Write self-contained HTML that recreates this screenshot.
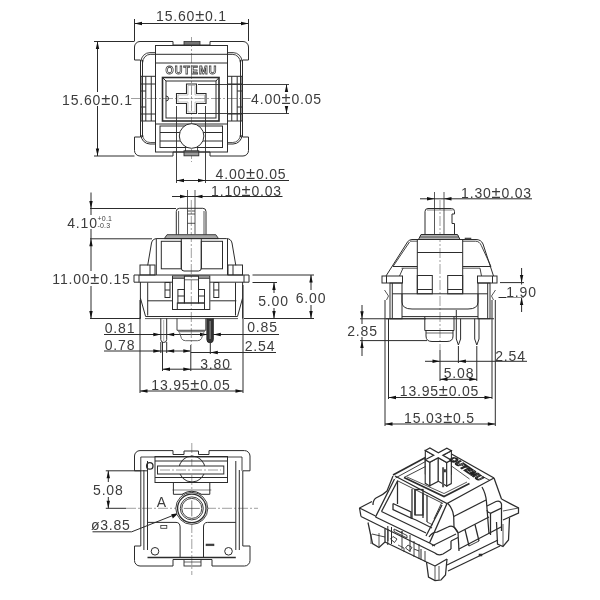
<!DOCTYPE html>
<html><head><meta charset="utf-8"><style>
html,body{margin:0;padding:0;background:#fff;width:600px;height:600px;overflow:hidden}
svg{display:block;will-change:transform}
text{font-family:"Liberation Sans",sans-serif}
</style></head><body>
<svg width="600" height="600" viewBox="0 0 600 600">
<rect width="600" height="600" fill="#fff"/>
<line x1="134.5" y1="19" x2="134.5" y2="41" stroke="#2c2c2c" stroke-width="1"/>
<line x1="248.5" y1="19" x2="248.5" y2="41" stroke="#2c2c2c" stroke-width="1"/>
<line x1="134.5" y1="23.5" x2="248.5" y2="23.5" stroke="#2c2c2c" stroke-width="1"/>
<polygon points="134.50,23.50 142.00,21.80 142.00,25.20" fill="#111"/>
<polygon points="248.50,23.50 241.00,21.80 241.00,25.20" fill="#111"/>
<text x="191.5" y="20.8" text-anchor="middle" font-size="14" letter-spacing="0.8" fill="#3c3c3c">15.60<tspan font-size="16.5">±</tspan>0.1</text>
<line x1="94" y1="41.5" x2="134.5" y2="41.5" stroke="#2c2c2c" stroke-width="1"/>
<line x1="94" y1="156" x2="134.5" y2="156" stroke="#2c2c2c" stroke-width="1"/>
<line x1="97.5" y1="41.5" x2="97.5" y2="156" stroke="#2c2c2c" stroke-width="1"/>
<polygon points="97.50,41.50 95.80,49.00 99.20,49.00" fill="#111"/>
<polygon points="97.50,156.00 95.80,148.50 99.20,148.50" fill="#111"/>
<rect x="62" y="92" width="72" height="14" fill="#fff"/>
<text x="97.5" y="104.5" text-anchor="middle" font-size="14" letter-spacing="0.8" fill="#3c3c3c">15.60<tspan font-size="16.5">±</tspan>0.1</text>
<line x1="131" y1="98.5" x2="250" y2="98.5" stroke="#777" stroke-width="0.7" stroke-dasharray="10 2 2 2"/>
<line x1="191.5" y1="37" x2="191.5" y2="162" stroke="#777" stroke-width="0.7" stroke-dasharray="10 2 2 2"/>
<line x1="198" y1="84.5" x2="289" y2="84.5" stroke="#2c2c2c" stroke-width="0.9"/>
<line x1="198" y1="113.5" x2="289" y2="113.5" stroke="#2c2c2c" stroke-width="0.9"/>
<line x1="286.5" y1="84.5" x2="286.5" y2="113.5" stroke="#2c2c2c" stroke-width="1"/>
<polygon points="286.50,84.50 284.80,92.00 288.20,92.00" fill="#111"/>
<polygon points="286.50,113.50 284.80,106.00 288.20,106.00" fill="#111"/>
<rect x="250" y="92" width="73" height="14" fill="#fff"/>
<line x1="242" y1="98.5" x2="251" y2="98.5" stroke="#777" stroke-width="0.7" stroke-dasharray="10 2 2 2"/>
<text x="286.5" y="104.3" text-anchor="middle" font-size="14" letter-spacing="0.8" fill="#3c3c3c">4.00<tspan font-size="16.5">±</tspan>0.05</text>
<line x1="176.5" y1="106" x2="176.5" y2="183" stroke="#2c2c2c" stroke-width="0.9"/>
<line x1="205.5" y1="106" x2="205.5" y2="183" stroke="#2c2c2c" stroke-width="0.9"/>
<line x1="176.5" y1="180.5" x2="289" y2="180.5" stroke="#2c2c2c" stroke-width="1"/>
<polygon points="176.50,180.50 184.00,178.80 184.00,182.20" fill="#111"/>
<polygon points="205.50,180.50 198.00,178.80 198.00,182.20" fill="#111"/>
<text x="251" y="178.5" text-anchor="middle" font-size="14" letter-spacing="0.8" fill="#3c3c3c">4.00<tspan font-size="16.5">±</tspan>0.05</text>
<path d="M134.5,60 V47 A5.5,5.5 0 0 1 140,41.5 H173 V45 H210 V41.5 H243 A5.5,5.5 0 0 1 248.5,47 V60 H242.5 V137 H248.5 V150.5 A5.5,5.5 0 0 1 243,156 H210 V152 H173 V156 H140 A5.5,5.5 0 0 1 134.5,150.5 V137 H140.5 V60 Z" fill="none" stroke="#2c2c2c" stroke-width="1"/>
<line x1="142.5" y1="60" x2="142.5" y2="137" stroke="#2c2c2c" stroke-width="1"/>
<line x1="240.5" y1="60" x2="240.5" y2="137" stroke="#2c2c2c" stroke-width="1"/>
<path d="M141,61.5 A9,9 0 0 1 150,52.6 H155.5" fill="none" stroke="#2c2c2c" stroke-width="0.9"/>
<path d="M142.7,62.5 A8,8 0 0 1 150.7,54.3" fill="none" stroke="#2c2c2c" stroke-width="0.9"/>
<path d="M242,61.5 A9,9 0 0 0 233,52.6 H227.5" fill="none" stroke="#2c2c2c" stroke-width="0.9"/>
<path d="M240.3,62.5 A8,8 0 0 0 232.3,54.3" fill="none" stroke="#2c2c2c" stroke-width="0.9"/>
<path d="M141,135 A9,9 0 0 0 150,144 H155" fill="none" stroke="#2c2c2c" stroke-width="1"/>
<path d="M242,135 A9,9 0 0 1 233,144 H227.5" fill="none" stroke="#2c2c2c" stroke-width="1"/>
<path d="M142.7,135 A7.5,7.5 0 0 0 150.2,142.5 H155.5" fill="none" stroke="#2c2c2c" stroke-width="0.8"/>
<path d="M240.3,135 A7.5,7.5 0 0 1 232.8,142.5 H227.5" fill="none" stroke="#2c2c2c" stroke-width="0.8"/>
<rect x="184" y="41.5" width="16" height="3.5" fill="#777" stroke="#2c2c2c" stroke-width="0.8"/>
<rect x="184" y="150.8" width="14.8" height="5" fill="#999" stroke="#2c2c2c" stroke-width="0.9"/>
<rect x="155.5" y="45.5" width="72" height="106.5" fill="none" stroke="#2c2c2c" stroke-width="1"/>
<line x1="150.5" y1="54.3" x2="232.5" y2="54.3" stroke="#2c2c2c" stroke-width="1"/>
<line x1="155.5" y1="63" x2="227.5" y2="63" stroke="#2c2c2c" stroke-width="1"/>
<text x="191.5" y="73.5" text-anchor="middle" font-size="10.5" letter-spacing="1.1" fill="#fff" font-weight="bold" stroke="#444" stroke-width="0.8">OUTEMU</text>
<rect x="227.5" y="76.3" width="14.5" height="44.7" fill="none" stroke="#2c2c2c" stroke-width="1"/>
<line x1="237.2" y1="76.3" x2="237.2" y2="121" stroke="#2c2c2c" stroke-width="1"/>
<line x1="231.75" y1="76.3" x2="231.75" y2="121" stroke="#2c2c2c" stroke-width="1"/>
<line x1="237.2" y1="84" x2="242" y2="84" stroke="#2c2c2c" stroke-width="1"/>
<line x1="237.2" y1="91" x2="242" y2="91" stroke="#2c2c2c" stroke-width="1"/>
<line x1="237.2" y1="107" x2="242" y2="107" stroke="#2c2c2c" stroke-width="1"/>
<line x1="237.2" y1="114" x2="242" y2="114" stroke="#2c2c2c" stroke-width="1"/>
<line x1="227.5" y1="84" x2="237.2" y2="84" stroke="#2c2c2c" stroke-width="1"/>
<line x1="227.5" y1="114" x2="237.2" y2="114" stroke="#2c2c2c" stroke-width="1"/>
<rect x="141" y="76.3" width="14.5" height="44.7" fill="none" stroke="#2c2c2c" stroke-width="1"/>
<line x1="145.8" y1="76.3" x2="145.8" y2="121" stroke="#2c2c2c" stroke-width="1"/>
<line x1="151.25" y1="76.3" x2="151.25" y2="121" stroke="#2c2c2c" stroke-width="1"/>
<line x1="141" y1="84" x2="145.8" y2="84" stroke="#2c2c2c" stroke-width="1"/>
<line x1="141" y1="91" x2="145.8" y2="91" stroke="#2c2c2c" stroke-width="1"/>
<line x1="141" y1="107" x2="145.8" y2="107" stroke="#2c2c2c" stroke-width="1"/>
<line x1="141" y1="114" x2="145.8" y2="114" stroke="#2c2c2c" stroke-width="1"/>
<line x1="145.8" y1="84" x2="155.5" y2="84" stroke="#2c2c2c" stroke-width="1"/>
<line x1="145.8" y1="114" x2="155.5" y2="114" stroke="#2c2c2c" stroke-width="1"/>
<rect x="162.5" y="77.5" width="56.5" height="43.5" fill="none" stroke="#2c2c2c" stroke-width="1.6"/>
<rect x="166" y="81" width="50" height="37" fill="none" stroke="#2c2c2c" stroke-width="1"/>
<path d="M166,96 A2.5,2.5 0 0 1 166,101" fill="none" stroke="#2c2c2c" stroke-width="1"/>
<line x1="162.5" y1="77.5" x2="166" y2="81" stroke="#2c2c2c" stroke-width="1"/>
<line x1="219" y1="77.5" x2="216" y2="81" stroke="#2c2c2c" stroke-width="1"/>
<path d="M186.5,84 H196.5 V93.5 H206 V103.5 H196.5 V113.5 H186.5 V103.5 H176.5 V93.5 H186.5 Z" fill="none" stroke="#2c2c2c" stroke-width="1.1"/>
<path d="M188,85.5 H195 V95 H204.5 V102 H195 V112 H188 V102 H178 V95 H188 Z" fill="none" stroke="#888" stroke-width="0.5"/>
<line x1="191.5" y1="87" x2="191.5" y2="110" stroke="#888" stroke-width="0.5" stroke-dasharray="3 1.5"/>
<line x1="180" y1="98.5" x2="203" y2="98.5" stroke="#888" stroke-width="0.5" stroke-dasharray="3 1.5"/>
<line x1="155.5" y1="124" x2="227.5" y2="124" stroke="#2c2c2c" stroke-width="1"/>
<rect x="160" y="126" width="62.5" height="21.5" fill="none" stroke="#2c2c2c" stroke-width="1"/>
<line x1="160" y1="132.5" x2="222.5" y2="132.5" stroke="#2c2c2c" stroke-width="1"/>
<line x1="160" y1="141" x2="222.5" y2="141" stroke="#2c2c2c" stroke-width="1"/>
<circle cx="191.6" cy="136" r="12.3" fill="#fff" stroke="#2c2c2c" stroke-width="1"/>
<path d="M185.5,147 L185.5,151 M197.5,147 L197.5,151" fill="none" stroke="#2c2c2c" stroke-width="0.8"/>
<line x1="187.5" y1="190" x2="187.5" y2="234" stroke="#2c2c2c" stroke-width="0.8"/>
<line x1="195" y1="190" x2="195" y2="234" stroke="#2c2c2c" stroke-width="0.8"/>
<line x1="172" y1="196.5" x2="282.5" y2="196.5" stroke="#2c2c2c" stroke-width="1"/>
<polygon points="187.50,196.50 180.00,194.80 180.00,198.20" fill="#111"/>
<polygon points="195.00,196.50 202.50,194.80 202.50,198.20" fill="#111"/>
<text x="246.5" y="195.8" text-anchor="middle" font-size="14" letter-spacing="0.8" fill="#3c3c3c">1.10<tspan font-size="16.5">±</tspan>0.03</text>
<line x1="90" y1="208.5" x2="176" y2="208.5" stroke="#2c2c2c" stroke-width="1"/>
<line x1="90" y1="238.8" x2="152" y2="238.8" stroke="#2c2c2c" stroke-width="1"/>
<line x1="90" y1="318.5" x2="140" y2="318.5" stroke="#2c2c2c" stroke-width="1"/>
<line x1="91" y1="192.5" x2="91" y2="318.5" stroke="#2c2c2c" stroke-width="1"/>
<polygon points="91.00,208.50 89.30,201.00 92.70,201.00" fill="#111"/>
<polygon points="91.00,238.80 89.30,246.30 92.70,246.30" fill="#111"/>
<polygon points="91.00,318.50 89.30,311.00 92.70,311.00" fill="#111"/>
<rect x="67" y="215" width="48" height="14" fill="#fff"/>
<text x="82.5" y="227.5" text-anchor="middle" font-size="14" letter-spacing="0.8" fill="#3c3c3c">4.10</text>
<text x="97.5" y="220.5" text-anchor="start" font-size="7" letter-spacing="0.2" fill="#3c3c3c">+0.1</text>
<text x="97.5" y="227.8" text-anchor="start" font-size="7" letter-spacing="0.2" fill="#3c3c3c">-0.3</text>
<rect x="51" y="271" width="82" height="15" fill="#fff"/>
<text x="91.5" y="284.2" text-anchor="middle" font-size="14" letter-spacing="0.8" fill="#3c3c3c">11.00<tspan font-size="16.5">±</tspan>0.15</text>
<line x1="252.5" y1="275" x2="314" y2="275" stroke="#2c2c2c" stroke-width="1"/>
<line x1="244" y1="318.5" x2="314" y2="318.5" stroke="#2c2c2c" stroke-width="1"/>
<line x1="252.5" y1="282.5" x2="277" y2="282.5" stroke="#2c2c2c" stroke-width="1"/>
<line x1="311" y1="275" x2="311" y2="318.5" stroke="#2c2c2c" stroke-width="1"/>
<polygon points="311.00,275.00 309.30,282.50 312.70,282.50" fill="#111"/>
<polygon points="311.00,318.50 309.30,311.00 312.70,311.00" fill="#111"/>
<line x1="274" y1="282.5" x2="274" y2="318.5" stroke="#2c2c2c" stroke-width="1"/>
<polygon points="274.00,282.50 272.30,290.00 275.70,290.00" fill="#111"/>
<polygon points="274.00,318.50 272.30,311.00 275.70,311.00" fill="#111"/>
<rect x="258" y="293" width="31" height="15" fill="#fff"/>
<rect x="295" y="290" width="33" height="15" fill="#fff"/>
<text x="273.5" y="306.2" text-anchor="middle" font-size="14" letter-spacing="0.8" fill="#3c3c3c">5.00</text>
<text x="311" y="302.7" text-anchor="middle" font-size="14" letter-spacing="0.8" fill="#3c3c3c">6.00</text>
<line x1="104" y1="334.5" x2="198" y2="334.5" stroke="#2c2c2c" stroke-width="1"/>
<polygon points="160.80,334.50 153.30,332.80 153.30,336.20" fill="#111"/>
<polygon points="166.70,334.50 174.20,332.80 174.20,336.20" fill="#111"/>
<text x="120" y="333" text-anchor="middle" font-size="14" letter-spacing="0.8" fill="#3c3c3c">0.81</text>
<line x1="104" y1="351" x2="190" y2="351" stroke="#2c2c2c" stroke-width="1"/>
<polygon points="160.80,351.00 153.30,349.30 153.30,352.70" fill="#111"/>
<polygon points="166.70,351.00 174.20,349.30 174.20,352.70" fill="#111"/>
<polygon points="190.80,351.00 183.30,349.30 183.30,352.70" fill="#111"/>
<text x="120" y="349.5" text-anchor="middle" font-size="14" letter-spacing="0.8" fill="#3c3c3c">0.78</text>
<line x1="198" y1="334.5" x2="279" y2="334.5" stroke="#2c2c2c" stroke-width="1"/>
<polygon points="207.50,334.50 200.00,332.80 200.00,336.20" fill="#111"/>
<polygon points="213.30,334.50 220.80,332.80 220.80,336.20" fill="#111"/>
<text x="262.5" y="332.3" text-anchor="middle" font-size="14" letter-spacing="0.8" fill="#3c3c3c">0.85</text>
<line x1="190.8" y1="352.5" x2="276" y2="352.5" stroke="#2c2c2c" stroke-width="1"/>
<polygon points="210.30,352.50 217.80,350.80 217.80,354.20" fill="#111"/>
<text x="260" y="351.2" text-anchor="middle" font-size="14" letter-spacing="0.8" fill="#3c3c3c">2.54</text>
<line x1="162.5" y1="369.2" x2="231.7" y2="369.2" stroke="#2c2c2c" stroke-width="1"/>
<polygon points="162.50,369.20 170.00,367.50 170.00,370.90" fill="#111"/>
<polygon points="190.80,369.20 183.30,367.50 183.30,370.90" fill="#111"/>
<text x="215.5" y="368.5" text-anchor="middle" font-size="14" letter-spacing="0.8" fill="#3c3c3c">3.80</text>
<line x1="140" y1="391" x2="243" y2="391" stroke="#2c2c2c" stroke-width="1"/>
<polygon points="140.00,391.00 147.50,389.30 147.50,392.70" fill="#111"/>
<polygon points="243.00,391.00 235.50,389.30 235.50,392.70" fill="#111"/>
<text x="191" y="390" text-anchor="middle" font-size="14" letter-spacing="0.8" fill="#3c3c3c">13.95<tspan font-size="16.5">±</tspan>0.05</text>
<line x1="140" y1="300" x2="140" y2="393" stroke="#2c2c2c" stroke-width="1"/>
<line x1="243" y1="285" x2="243" y2="393" stroke="#2c2c2c" stroke-width="1"/>
<line x1="160.8" y1="342" x2="160.8" y2="353" stroke="#2c2c2c" stroke-width="1"/>
<line x1="166.7" y1="342" x2="166.7" y2="353" stroke="#2c2c2c" stroke-width="1"/>
<line x1="162.5" y1="342" x2="162.5" y2="371" stroke="#2c2c2c" stroke-width="1"/>
<line x1="190.8" y1="345" x2="190.8" y2="371" stroke="#2c2c2c" stroke-width="1"/>
<line x1="210.3" y1="342" x2="210.3" y2="354" stroke="#2c2c2c" stroke-width="1"/>
<line x1="191.3" y1="200" x2="191.3" y2="345" stroke="#777" stroke-width="0.7" stroke-dasharray="10 2 2 2"/>
<path d="M176.3,234.7 V211.5 Q176.3,208.3 179.5,208.3 H202.8 Q206,208.3 206,211.5 V234.7" fill="none" stroke="#2c2c2c" stroke-width="1"/>
<line x1="178.6" y1="211" x2="178.6" y2="234.7" stroke="#2c2c2c" stroke-width="0.8"/>
<line x1="204" y1="211" x2="204" y2="234.7" stroke="#2c2c2c" stroke-width="0.8"/>
<path d="M187.5,211 H195 M187.5,214 H195 M187.5,223.3 H195" fill="none" stroke="#2c2c2c" stroke-width="0.8"/>
<polygon points="167,234.7 215.8,234.7 218.5,238.6 164.3,238.6" fill="#a5a5a5" stroke="#2c2c2c" stroke-width="0.9"/>
<path d="M147.7,265.4 L151.5,243 Q152.5,238.6 157,238.6 H226.5 Q231,238.6 232,243 L235.8,265.4" fill="none" stroke="#2c2c2c" stroke-width="1"/>
<line x1="156.3" y1="238.8" x2="156.3" y2="275" stroke="#2c2c2c" stroke-width="1"/>
<line x1="227.5" y1="238.8" x2="227.5" y2="275" stroke="#2c2c2c" stroke-width="1"/>
<rect x="161.3" y="241.3" width="20" height="27.5" fill="none" stroke="#2c2c2c" stroke-width="1"/>
<rect x="201.3" y="241.3" width="21.2" height="27.5" fill="none" stroke="#2c2c2c" stroke-width="1"/>
<path d="M181.3,238.8 V268 Q181.3,271 184,271 H198.5 Q201.3,271 201.3,268 V238.8" fill="none" stroke="#2c2c2c" stroke-width="1"/>
<rect x="140" y="265" width="15" height="10" fill="none" stroke="#2c2c2c" stroke-width="1"/>
<line x1="150" y1="265" x2="150" y2="275" stroke="#2c2c2c" stroke-width="1"/>
<rect x="228" y="265" width="14.5" height="10" fill="none" stroke="#2c2c2c" stroke-width="1"/>
<line x1="233" y1="265" x2="233" y2="275" stroke="#2c2c2c" stroke-width="1"/>
<path d="M172.5,282.2 H134 V275 H249 V282.2 H209.8" fill="none" stroke="#2c2c2c" stroke-width="1"/>
<line x1="139" y1="275" x2="139" y2="282.2" stroke="#2c2c2c" stroke-width="1"/>
<line x1="244" y1="275" x2="244" y2="282.2" stroke="#2c2c2c" stroke-width="1"/>
<path d="M140.4,282 V298 L145.6,316.5 H237.5 L242.6,298 V282" fill="none" stroke="#2c2c2c" stroke-width="1"/>
<line x1="147.7" y1="282.5" x2="147.7" y2="315.5" stroke="#2c2c2c" stroke-width="1"/>
<line x1="235.5" y1="282.5" x2="235.5" y2="315.5" stroke="#2c2c2c" stroke-width="1"/>
<line x1="140.4" y1="298" x2="140.4" y2="318.6" stroke="#2c2c2c" stroke-width="1"/>
<line x1="242.6" y1="298" x2="242.6" y2="318.6" stroke="#2c2c2c" stroke-width="1"/>
<line x1="147.7" y1="300.8" x2="172.7" y2="300.8" stroke="#2c2c2c" stroke-width="1"/>
<line x1="210.2" y1="300.8" x2="236.3" y2="300.8" stroke="#2c2c2c" stroke-width="1"/>
<rect x="172.5" y="276" width="37.3" height="33.5" fill="none" stroke="#2c2c2c" stroke-width="1"/>
<line x1="172.5" y1="278.1" x2="184.4" y2="278.1" stroke="#2c2c2c" stroke-width="1.3"/>
<line x1="198.5" y1="278.1" x2="209.8" y2="278.1" stroke="#2c2c2c" stroke-width="1.3"/>
<rect x="184.4" y="276" width="14.1" height="27" fill="none" stroke="#2c2c2c" stroke-width="1"/>
<line x1="184.4" y1="279.8" x2="198.5" y2="279.8" stroke="#2c2c2c" stroke-width="0.7"/>
<rect x="177.9" y="289.5" width="6.5" height="13.5" fill="none" stroke="#2c2c2c" stroke-width="1"/>
<line x1="177.9" y1="296" x2="184.4" y2="296" stroke="#2c2c2c" stroke-width="1"/>
<rect x="198.5" y="289.5" width="6" height="13.5" fill="none" stroke="#2c2c2c" stroke-width="1"/>
<line x1="198.5" y1="296" x2="204.5" y2="296" stroke="#2c2c2c" stroke-width="1"/>
<rect x="177.3" y="303" width="27.2" height="6.5" fill="none" stroke="#2c2c2c" stroke-width="1"/>
<rect x="165" y="282.5" width="5" height="15" fill="none" stroke="#2c2c2c" stroke-width="1"/>
<line x1="165" y1="290" x2="170" y2="290" stroke="#2c2c2c" stroke-width="1"/>
<rect x="213.8" y="282.5" width="5" height="15" fill="none" stroke="#2c2c2c" stroke-width="1"/>
<line x1="213.8" y1="290" x2="218.8" y2="290" stroke="#2c2c2c" stroke-width="1"/>
<line x1="140" y1="317.5" x2="140" y2="319" stroke="#2c2c2c" stroke-width="1"/>
<line x1="145" y1="318.6" x2="238" y2="318.6" stroke="#2c2c2c" stroke-width="0.8"/>
<path d="M160.8,318.3 V339.5 A2.95,2.95 0 0 0 166.7,339.5 V318.3" fill="none" stroke="#2c2c2c" stroke-width="1"/>
<line x1="163.7" y1="320" x2="163.7" y2="341" stroke="#666" stroke-width="0.5"/>
<path d="M206.9,318.3 V339.6 A3.2,3.2 0 0 0 213.3,339.6 V318.3" fill="#333" stroke="#2c2c2c" stroke-width="1"/>
<line x1="210.1" y1="321" x2="210.1" y2="339" stroke="#888" stroke-width="1.2"/>
<path d="M177,318.3 V330.3 H205.8 V318.3" fill="none" stroke="#2c2c2c" stroke-width="0.9"/>
<path d="M178,331.7 H205 M179.5,332.5 L181.5,338.5 Q182.5,340.7 185.5,340.7 H197.5 Q200.5,340.7 201.5,338.5 L203.5,332.5" fill="none" stroke="#555" stroke-width="0.9"/>
<line x1="434.5" y1="192" x2="434.5" y2="235" stroke="#2c2c2c" stroke-width="0.8"/>
<line x1="444" y1="192" x2="444" y2="235" stroke="#2c2c2c" stroke-width="0.8"/>
<line x1="420" y1="198.8" x2="532" y2="198.8" stroke="#2c2c2c" stroke-width="1"/>
<polygon points="434.50,198.80 427.00,197.10 427.00,200.50" fill="#111"/>
<polygon points="444.00,198.80 451.50,197.10 451.50,200.50" fill="#111"/>
<text x="496.5" y="197.8" text-anchor="middle" font-size="14" letter-spacing="0.8" fill="#3c3c3c">1.30<tspan font-size="16.5">±</tspan>0.03</text>
<line x1="440" y1="200" x2="440" y2="350" stroke="#777" stroke-width="0.7" stroke-dasharray="10 2 2 2"/>
<path d="M425,234.5 V211.5 Q425,208.5 428,208.5 H451.5 Q454.5,208.5 454.5,211.5 V214 H452 V223.5 H454.5 V234.5" fill="none" stroke="#2c2c2c" stroke-width="1"/>
<line x1="427" y1="210" x2="452.5" y2="210" stroke="#2c2c2c" stroke-width="0.6"/>
<polygon points="421,234.5 457.5,234.5 460,239.5 418.5,239.5" fill="#d5d5d5" stroke="#2c2c2c" stroke-width="1"/>
<line x1="420" y1="236.2" x2="458.5" y2="236.2" stroke="#2c2c2c" stroke-width="0.7"/>
<line x1="419.5" y1="237.8" x2="459" y2="237.8" stroke="#2c2c2c" stroke-width="0.7"/>
<rect x="465" y="238" width="6" height="1.5" fill="#555" stroke="#2c2c2c" stroke-width="0.5"/>
<path d="M386,276 L407.5,242 Q409,239.5 412,239.5 H476 Q481,239.5 483,244 L493.5,276" fill="none" stroke="#2c2c2c" stroke-width="1"/>
<line x1="393" y1="266.5" x2="409.5" y2="242" stroke="#2c2c2c" stroke-width="0.9"/>
<line x1="410" y1="241.2" x2="417.3" y2="241.2" stroke="#2c2c2c" stroke-width="0.8"/>
<path d="M462.7,241.2 H475.5 Q479.5,241.2 481.3,245.5 L491,266.5" fill="none" stroke="#2c2c2c" stroke-width="0.9"/>
<line x1="393" y1="266.5" x2="417.3" y2="266.5" stroke="#2c2c2c" stroke-width="1"/>
<line x1="401.5" y1="268.2" x2="417.3" y2="268.2" stroke="#2c2c2c" stroke-width="0.8"/>
<line x1="403" y1="268.2" x2="399.5" y2="276" stroke="#2c2c2c" stroke-width="0.9"/>
<line x1="462.7" y1="266.5" x2="491" y2="266.5" stroke="#2c2c2c" stroke-width="1"/>
<line x1="462.7" y1="268.2" x2="480" y2="268.2" stroke="#2c2c2c" stroke-width="0.8"/>
<line x1="480" y1="268.2" x2="481.5" y2="276" stroke="#2c2c2c" stroke-width="0.9"/>
<line x1="417.3" y1="239.5" x2="417.3" y2="294" stroke="#2c2c2c" stroke-width="1"/>
<line x1="462.7" y1="239.5" x2="462.7" y2="294" stroke="#2c2c2c" stroke-width="1"/>
<line x1="417.3" y1="252.5" x2="462.7" y2="252.5" stroke="#2c2c2c" stroke-width="1"/>
<rect x="417.3" y="275.5" width="15" height="18.3" fill="none" stroke="#2c2c2c" stroke-width="1"/>
<rect x="447.7" y="275.5" width="15" height="18.3" fill="none" stroke="#2c2c2c" stroke-width="1"/>
<line x1="417.3" y1="289.5" x2="432.3" y2="289.5" stroke="#2c2c2c" stroke-width="1"/>
<line x1="447.7" y1="289.5" x2="462.7" y2="289.5" stroke="#2c2c2c" stroke-width="1"/>
<rect x="382" y="276" width="20.5" height="7" fill="none" stroke="#2c2c2c" stroke-width="1"/>
<rect x="477.5" y="276" width="19.5" height="7" fill="none" stroke="#2c2c2c" stroke-width="1"/>
<line x1="386.5" y1="276" x2="386.5" y2="283" stroke="#2c2c2c" stroke-width="1"/>
<line x1="492.5" y1="276" x2="492.5" y2="283" stroke="#2c2c2c" stroke-width="1"/>
<rect x="390" y="283" width="12" height="35.75" fill="none" stroke="#2c2c2c" stroke-width="1"/>
<line x1="392.3" y1="283" x2="392.3" y2="318.75" stroke="#2c2c2c" stroke-width="1"/>
<rect x="478" y="283" width="12" height="35.75" fill="none" stroke="#2c2c2c" stroke-width="1"/>
<line x1="487.7" y1="283" x2="487.7" y2="318.75" stroke="#2c2c2c" stroke-width="1"/>
<line x1="392.3" y1="293.8" x2="487.7" y2="293.8" stroke="#2c2c2c" stroke-width="1"/>
<path d="M402,293.8 V302 Q402,309 412,309 H468 Q478,309 478,302 V293.8" fill="none" stroke="#2c2c2c" stroke-width="1"/>
<line x1="402" y1="316.6" x2="478" y2="316.6" stroke="#2c2c2c" stroke-width="1"/>
<line x1="386" y1="318.75" x2="494" y2="318.75" stroke="#2c2c2c" stroke-width="1"/>
<polyline points="384.5,290 388.5,296 386.5,300" fill="none" stroke="#2c2c2c" stroke-width="0.8"/>
<polyline points="495.5,290 491.5,296 493.5,300" fill="none" stroke="#2c2c2c" stroke-width="0.8"/>
<path d="M424.8,316.6 V330.5 H454 V316.6" fill="none" stroke="#2c2c2c" stroke-width="1"/>
<path d="M426,330.5 V336 Q426,341.5 432,341.5 H447 Q453,341.5 453,336 V330.5" fill="none" stroke="#2c2c2c" stroke-width="1"/>
<line x1="426" y1="333" x2="453" y2="333" stroke="#2c2c2c" stroke-width="0.7"/>
<path d="M456.3,310 V339 L458.4,345 L460.6,339 V318.75" fill="none" stroke="#2c2c2c" stroke-width="1"/>
<path d="M474.7,318.75 V339 L476.8,345 L479,339 V318.75" fill="none" stroke="#2c2c2c" stroke-width="1"/>
<line x1="385" y1="300" x2="385" y2="426" stroke="#2c2c2c" stroke-width="1"/>
<line x1="388.5" y1="319" x2="388.5" y2="399" stroke="#2c2c2c" stroke-width="1"/>
<line x1="492" y1="300" x2="492" y2="399" stroke="#2c2c2c" stroke-width="1"/>
<line x1="495.3" y1="300" x2="495.3" y2="426" stroke="#2c2c2c" stroke-width="1"/>
<line x1="360" y1="318.75" x2="426" y2="318.75" stroke="#2c2c2c" stroke-width="1"/>
<line x1="360" y1="340.6" x2="427" y2="340.6" stroke="#2c2c2c" stroke-width="1"/>
<line x1="362" y1="305" x2="362" y2="356" stroke="#2c2c2c" stroke-width="1"/>
<polygon points="362.00,318.75 360.30,311.25 363.70,311.25" fill="#111"/>
<polygon points="362.00,340.60 360.30,348.10 363.70,348.10" fill="#111"/>
<rect x="346" y="324" width="33" height="13" fill="#fff"/>
<text x="362.5" y="336.3" text-anchor="middle" font-size="14" letter-spacing="0.8" fill="#3c3c3c">2.85</text>
<line x1="500" y1="282.6" x2="524" y2="282.6" stroke="#2c2c2c" stroke-width="1"/>
<line x1="498.5" y1="297.5" x2="524" y2="297.5" stroke="#2c2c2c" stroke-width="1"/>
<line x1="521.6" y1="268" x2="521.6" y2="312" stroke="#2c2c2c" stroke-width="1"/>
<polygon points="521.60,282.60 519.90,275.10 523.30,275.10" fill="#111"/>
<polygon points="521.60,297.50 519.90,305.00 523.30,305.00" fill="#111"/>
<rect x="506" y="284.5" width="31" height="13" fill="#fff"/>
<text x="521.5" y="296.5" text-anchor="middle" font-size="14" letter-spacing="0.8" fill="#3c3c3c">1.90</text>
<line x1="458.4" y1="346" x2="458.4" y2="363" stroke="#2c2c2c" stroke-width="1"/>
<line x1="476.8" y1="346" x2="476.8" y2="381" stroke="#2c2c2c" stroke-width="1"/>
<line x1="440" y1="350" x2="440" y2="381" stroke="#2c2c2c" stroke-width="1"/>
<line x1="425" y1="361.3" x2="527" y2="361.3" stroke="#2c2c2c" stroke-width="1"/>
<polygon points="440.00,361.30 432.50,359.60 432.50,363.00" fill="#111"/>
<polygon points="458.40,361.30 465.90,359.60 465.90,363.00" fill="#111"/>
<text x="510.5" y="360.5" text-anchor="middle" font-size="14" letter-spacing="0.8" fill="#3c3c3c">2.54</text>
<line x1="440" y1="379.3" x2="477" y2="379.3" stroke="#2c2c2c" stroke-width="1"/>
<polygon points="440.00,379.30 447.50,377.60 447.50,381.00" fill="#111"/>
<polygon points="476.80,379.30 469.30,377.60 469.30,381.00" fill="#111"/>
<text x="459" y="377.8" text-anchor="middle" font-size="14" letter-spacing="0.8" fill="#3c3c3c">5.08</text>
<line x1="388.5" y1="397.5" x2="492" y2="397.5" stroke="#2c2c2c" stroke-width="1"/>
<polygon points="388.50,397.50 396.00,395.80 396.00,399.20" fill="#111"/>
<polygon points="492.00,397.50 484.50,395.80 484.50,399.20" fill="#111"/>
<text x="439.5" y="396.3" text-anchor="middle" font-size="14" letter-spacing="0.8" fill="#3c3c3c">13.95<tspan font-size="16.5">±</tspan>0.05</text>
<line x1="385" y1="424" x2="495.3" y2="424" stroke="#2c2c2c" stroke-width="1"/>
<polygon points="385.00,424.00 392.50,422.30 392.50,425.70" fill="#111"/>
<polygon points="495.30,424.00 487.80,422.30 487.80,425.70" fill="#111"/>
<text x="439.5" y="422.8" text-anchor="middle" font-size="14" letter-spacing="0.8" fill="#3c3c3c">15.03<tspan font-size="16.5">±</tspan>0.5</text>
<line x1="126" y1="508.3" x2="258" y2="508.3" stroke="#777" stroke-width="0.7" stroke-dasharray="10 2 2 2"/>
<line x1="191.8" y1="443" x2="191.8" y2="575" stroke="#777" stroke-width="0.7" stroke-dasharray="10 2 2 2"/>
<line x1="105.8" y1="470.8" x2="148" y2="470.8" stroke="#2c2c2c" stroke-width="1"/>
<line x1="105.8" y1="508.3" x2="126" y2="508.3" stroke="#2c2c2c" stroke-width="1"/>
<line x1="108.3" y1="470.8" x2="108.3" y2="508.3" stroke="#2c2c2c" stroke-width="1"/>
<polygon points="108.30,470.80 106.60,478.30 110.00,478.30" fill="#111"/>
<polygon points="108.30,508.30 106.60,500.80 110.00,500.80" fill="#111"/>
<rect x="92" y="482" width="33" height="15" fill="#fff"/>
<text x="108.3" y="495.2" text-anchor="middle" font-size="14" letter-spacing="0.8" fill="#3c3c3c">5.08</text>
<text x="110.8" y="530.3" text-anchor="middle" font-size="14" letter-spacing="0.8" fill="#3c3c3c">ø3.85</text>
<polyline points="92.5,531.8 131.7,531.8 178.3,513.3" fill="none" stroke="#2c2c2c" stroke-width="1"/>
<polygon points="178.3,513.3 171.2,514.3 172.8,518.4" fill="#111"/>
<path d="M134.5,470.8 V456 A5.5,5.5 0 0 1 140,450.6 H173 V454.5 H184 V451 H198.5 V454.5 H209 V450.6 H244.5 A5.5,5.5 0 0 1 250,456 V470.8 H242.8 V546 H250 V560.5 A5.5,5.5 0 0 1 244.5,566 H212 V559.5 H173 V566 H140 A5.5,5.5 0 0 1 134.5,560.5 V546 H140.8 V470.8 Z" fill="none" stroke="#2c2c2c" stroke-width="1"/>
<line x1="143.9" y1="470" x2="143.9" y2="550" stroke="#2c2c2c" stroke-width="1"/>
<line x1="147.5" y1="470" x2="147.5" y2="550" stroke="#2c2c2c" stroke-width="1"/>
<line x1="239.3" y1="470" x2="239.3" y2="550" stroke="#2c2c2c" stroke-width="1"/>
<line x1="235.8" y1="470" x2="235.8" y2="550" stroke="#2c2c2c" stroke-width="1"/>
<line x1="140.8" y1="457" x2="242" y2="457" stroke="#2c2c2c" stroke-width="0.9"/>
<line x1="140.8" y1="457" x2="140.8" y2="470.8" stroke="#2c2c2c" stroke-width="0.9"/>
<line x1="242" y1="457" x2="242" y2="470.8" stroke="#2c2c2c" stroke-width="0.9"/>
<rect x="184" y="559.5" width="17" height="6.5" fill="none" stroke="#2c2c2c" stroke-width="0.9"/>
<line x1="184" y1="562" x2="201" y2="562" stroke="#2c2c2c" stroke-width="0.7"/>
<line x1="147.5" y1="461" x2="147.5" y2="470" stroke="#2c2c2c" stroke-width="1"/>
<line x1="235.8" y1="461" x2="235.8" y2="470" stroke="#2c2c2c" stroke-width="1"/>
<line x1="147.5" y1="557.5" x2="235.8" y2="557.5" stroke="#2c2c2c" stroke-width="1.3"/>
<line x1="173" y1="559.5" x2="211" y2="559.5" stroke="#2c2c2c" stroke-width="0.8"/>
<circle cx="149.8" cy="465.9" r="3.2" fill="none" stroke="#2c2c2c" stroke-width="1.3"/>
<circle cx="192" cy="469" r="13" fill="none" stroke="#2c2c2c" stroke-width="1"/>
<rect x="155" y="456.5" width="72.5" height="26" fill="none" stroke="#2c2c2c" stroke-width="1"/>
<line x1="155" y1="461" x2="227.5" y2="461" stroke="#2c2c2c" stroke-width="1"/>
<line x1="155" y1="477.5" x2="227.5" y2="477.5" stroke="#2c2c2c" stroke-width="1"/>
<rect x="157.5" y="466" width="66.3" height="8" fill="#fff" stroke="#2c2c2c" stroke-width="1"/>
<line x1="160" y1="470" x2="221" y2="470" stroke="#777" stroke-width="0.7" stroke-dasharray="10 2 2 2"/>
<path d="M173.4,482.5 V494.3 H183 M209.8,482.5 V494.3 H200.5" fill="none" stroke="#2c2c2c" stroke-width="1"/>
<path d="M182.5,494 A18,18 0 0 1 201,494" fill="none" stroke="#2c2c2c" stroke-width="1"/>
<line x1="172.5" y1="490" x2="211.3" y2="490" stroke="#2c2c2c" stroke-width="0.6"/>
<circle cx="191.8" cy="508.4" r="16" fill="#fff" stroke="#2c2c2c" stroke-width="0.9"/>
<circle cx="191.8" cy="508.4" r="14.2" fill="none" stroke="#2c2c2c" stroke-width="1.3"/>
<circle cx="191.8" cy="508.4" r="11.5" fill="none" stroke="#2c2c2c" stroke-width="0.9"/>
<circle cx="191.8" cy="508.4" r="10" fill="none" stroke="#2c2c2c" stroke-width="0.9"/>
<line x1="183.8" y1="508.4" x2="199.8" y2="508.4" stroke="#2c2c2c" stroke-width="0.6"/>
<line x1="191.8" y1="500.4" x2="191.8" y2="516.4" stroke="#2c2c2c" stroke-width="0.6"/>
<path d="M147.5,522.4 H176 Q180,522.4 180.1,527 V557.5 M235.8,522.4 H207.5 Q203.5,522.4 203.5,527 V557.5" fill="none" stroke="#2c2c2c" stroke-width="1"/>
<text x="161.3" y="507.3" text-anchor="middle" font-size="14" letter-spacing="0" fill="#3c3c3c">A</text>
<rect x="160.8" y="525.5" width="6" height="2.8" fill="none" stroke="#2c2c2c" stroke-width="0.8"/>
<rect x="206" y="544" width="8" height="1.8" fill="#444" stroke="#2c2c2c" stroke-width="0.5"/>
<circle cx="155" cy="551.3" r="3.8" fill="none" stroke="#2c2c2c" stroke-width="1"/>
<circle cx="228.5" cy="551.3" r="3.8" fill="none" stroke="#2c2c2c" stroke-width="1"/>
<polygon points="442.85,455.35 451.39,450.79 451.39,474.29 442.85,478.85" fill="#fff" stroke="#2c2c2c" stroke-width="1.1"/>
<polygon points="425.31,450.5 433.75,455.25 433.75,478.75 425.31,474.0" fill="#fff" stroke="#2c2c2c" stroke-width="1.1"/>
<polygon points="429.74,462.36 438.27,457.8 438.27,481.3 429.74,485.86" fill="#fff" stroke="#2c2c2c" stroke-width="1.1"/>
<polygon points="438.27,457.8 446.71,462.55 446.71,486.05 438.27,481.3" fill="#fff" stroke="#2c2c2c" stroke-width="1.1"/>
<polygon points="425.21,459.81 429.74,462.36 429.74,485.86 425.21,483.31" fill="#fff" stroke="#2c2c2c" stroke-width="1.1"/>
<polygon points="446.71,462.55 451.29,460.11 451.29,483.61 446.71,486.05" fill="#fff" stroke="#2c2c2c" stroke-width="1.1"/>
<polygon points="425.31,450.5 429.89,448.05 438.33,452.8 446.86,448.25 451.39,450.79 442.85,455.35 451.29,460.11 446.71,462.55 438.27,457.8 429.74,462.36 425.21,459.81 433.75,455.25" fill="#fff" stroke="#2c2c2c" stroke-width="1.2"/>
<rect x="442.08" y="467.27" width="2" height="20" fill="#555" stroke="#2c2c2c" stroke-width="0"/>
<rect x="443.88" y="469.27" width="2" height="3" fill="#333" stroke="#2c2c2c" stroke-width="0"/>
<line x1="393" y1="475" x2="425.5" y2="457.5" stroke="#2c2c2c" stroke-width="1.6"/>
<line x1="395.5" y1="478" x2="425.5" y2="461.5" stroke="#2c2c2c" stroke-width="0.9"/>
<line x1="451.5" y1="454" x2="494" y2="478" stroke="#2c2c2c" stroke-width="1.3"/>
<line x1="451.5" y1="459.5" x2="490" y2="480.5" stroke="#2c2c2c" stroke-width="0.9"/>
<polyline points="395,476 447,503.5 481,485 494,478" fill="none" stroke="#2c2c2c" stroke-width="1.25"/>
<polyline points="397,480.5 443,503.5" fill="none" stroke="#2c2c2c" stroke-width="0.9"/>
<polyline points="404,477.5 444,496.5 469.5,483.5" fill="none" stroke="#2c2c2c" stroke-width="1.7"/>
<polyline points="407,477 444,493.5 467,482" fill="none" stroke="#2c2c2c" stroke-width="0.8"/>
<polyline points="404,477.5 425.5,466.5" fill="none" stroke="#2c2c2c" stroke-width="0.9"/>
<polyline points="451.5,466 469.5,479" fill="none" stroke="#2c2c2c" stroke-width="0.8"/>
<text transform="matrix(0.8,0.56,-0.95,0.5,448.5,459.5)" font-size="8.6" font-weight="bold" letter-spacing="0.2" fill="#fff" stroke="#222" stroke-width="1.1">OUTEMU</text>
<line x1="494" y1="478" x2="501.5" y2="499" stroke="#2c2c2c" stroke-width="1.25"/>
<line x1="394.5" y1="479" x2="375.5" y2="517" stroke="#2c2c2c" stroke-width="1.3"/>
<line x1="397.5" y1="481" x2="381.5" y2="511.5" stroke="#2c2c2c" stroke-width="1.25"/>
<line x1="447" y1="503.5" x2="429.5" y2="543" stroke="#2c2c2c" stroke-width="1.3"/>
<line x1="442" y1="505" x2="426" y2="536" stroke="#2c2c2c" stroke-width="1.25"/>
<line x1="375.5" y1="517" x2="429.5" y2="543" stroke="#2c2c2c" stroke-width="1.3"/>
<line x1="381.5" y1="511.5" x2="426" y2="533" stroke="#2c2c2c" stroke-width="1.25"/>
<path d="M393,476 L387,491 Q383,495 376,498 Q373,500 373,505" fill="none" stroke="#2c2c2c" stroke-width="1.25"/>
<line x1="397.5" y1="481" x2="397.5" y2="504" stroke="#2c2c2c" stroke-width="1.25"/>
<line x1="412" y1="489" x2="412" y2="519" stroke="#2c2c2c" stroke-width="1.25"/>
<polyline points="393,503.5 411,512 411,518 393,509.5 393,503.5" fill="none" stroke="#2c2c2c" stroke-width="1.25"/>
<line x1="415" y1="489.5" x2="415" y2="515" stroke="#2c2c2c" stroke-width="1.25"/>
<line x1="423" y1="493" x2="423" y2="518" stroke="#2c2c2c" stroke-width="1.25"/>
<rect x="415" y="489.5" width="8" height="25.5" fill="none" stroke="#2c2c2c" stroke-width="1.25"/>
<line x1="427" y1="495" x2="427" y2="522" stroke="#2c2c2c" stroke-width="1.25"/>
<line x1="441.5" y1="503" x2="434" y2="519" stroke="#2c2c2c" stroke-width="0.9"/>
<polyline points="416,520 432,528" fill="none" stroke="#2c2c2c" stroke-width="1.25"/>
<polyline points="411,518 416,520" fill="none" stroke="#2c2c2c" stroke-width="1.25"/>
<polyline points="427,522 433,525" fill="none" stroke="#2c2c2c" stroke-width="0.8"/>
<polyline points="372,501.5 359.5,508" fill="none" stroke="#2c2c2c" stroke-width="1.25"/>
<polyline points="359.5,508 361,516.5" fill="none" stroke="#2c2c2c" stroke-width="1.25"/>
<line x1="359.5" y1="508" x2="375.5" y2="516" stroke="#2c2c2c" stroke-width="1.25"/>
<line x1="361" y1="516.5" x2="435" y2="553" stroke="#2c2c2c" stroke-width="1.25"/>
<line x1="429.5" y1="543" x2="435" y2="546" stroke="#2c2c2c" stroke-width="1.25"/>
<path d="M435,553 Q438,556 443,554 L451,549" fill="none" stroke="#2c2c2c" stroke-width="1.25"/>
<path d="M429,537 Q432,532 437,532 L448,527 Q452,525 455,528 L458,532" fill="none" stroke="#2c2c2c" stroke-width="1.25"/>
<line x1="432" y1="546" x2="456" y2="534" stroke="#2c2c2c" stroke-width="1.25"/>
<line x1="451" y1="541" x2="451" y2="549" stroke="#2c2c2c" stroke-width="1.25"/>
<line x1="451" y1="541" x2="458" y2="537.5" stroke="#2c2c2c" stroke-width="1.25"/>
<path d="M448,503.5 Q453,509 453.7,516.5 L454,527" fill="none" stroke="#2c2c2c" stroke-width="1.25"/>
<line x1="453.7" y1="516.5" x2="486" y2="500" stroke="#2c2c2c" stroke-width="1.25"/>
<line x1="454" y1="527" x2="458" y2="533" stroke="#2c2c2c" stroke-width="1.25"/>
<line x1="458" y1="533" x2="489" y2="517" stroke="#2c2c2c" stroke-width="1.25"/>
<path d="M482,487 Q486,494 486.5,502 L489,534" fill="none" stroke="#2c2c2c" stroke-width="1.25"/>
<line x1="458" y1="533" x2="459" y2="551" stroke="#2c2c2c" stroke-width="1.25"/>
<polyline points="465,529.5 469,546" fill="none" stroke="#2c2c2c" stroke-width="1.25"/>
<polyline points="475,524.5 479,541" fill="none" stroke="#2c2c2c" stroke-width="1.25"/>
<line x1="469" y1="546" x2="479" y2="541" stroke="#2c2c2c" stroke-width="0.9"/>
<line x1="459" y1="549" x2="501" y2="527" stroke="#2c2c2c" stroke-width="1.25"/>
<path d="M487,506 L496,501.5 Q500,500 501.5,504 V508 L491,513 Q487.5,513 487,510" fill="none" stroke="#2c2c2c" stroke-width="1.25"/>
<line x1="490.5" y1="513" x2="490.5" y2="535" stroke="#2c2c2c" stroke-width="1.25"/>
<line x1="501.5" y1="508" x2="501.5" y2="531" stroke="#2c2c2c" stroke-width="1.25"/>
<polyline points="501.5,499 518.5,508 518.5,513 503,520" fill="none" stroke="#2c2c2c" stroke-width="1.25"/>
<line x1="503" y1="511" x2="518.5" y2="508" stroke="#2c2c2c" stroke-width="0.8"/>
<polyline points="368,522.5 372.5,543.5 379,547.5 385,542 385,528.5" fill="none" stroke="#2c2c2c" stroke-width="1.25"/>
<line x1="371" y1="534" x2="371" y2="544" stroke="#2c2c2c" stroke-width="0.8"/>
<line x1="379" y1="533" x2="379" y2="547" stroke="#2c2c2c" stroke-width="0.8"/>
<line x1="372" y1="534" x2="385" y2="537" stroke="#2c2c2c" stroke-width="0.9"/>
<line x1="385" y1="542" x2="426.5" y2="562" stroke="#2c2c2c" stroke-width="1.25"/>
<polyline points="390.5,539 393,536.5 397,539 394.5,542.5 390.5,539" fill="none" stroke="#2c2c2c" stroke-width="0.9"/>
<polyline points="405.5,548 408,545 412,547.5 409.5,551 405.5,548" fill="none" stroke="#2c2c2c" stroke-width="0.9"/>
<polyline points="394,529 407,535.5 407,538 394,531.5 394,529" fill="none" stroke="#2c2c2c" stroke-width="0.9"/>
<line x1="388" y1="529" x2="388" y2="541" stroke="#2c2c2c" stroke-width="0.9"/>
<line x1="414" y1="541" x2="414" y2="557" stroke="#2c2c2c" stroke-width="0.9"/>
<line x1="419" y1="544" x2="419" y2="559" stroke="#2c2c2c" stroke-width="0.9"/>
<line x1="414" y1="549" x2="419" y2="551" stroke="#2c2c2c" stroke-width="0.9"/>
<line x1="387.8" y1="526" x2="387.8" y2="545" stroke="#2c2c2c" stroke-width="1.0"/>
<line x1="391.5" y1="527" x2="391.5" y2="544" stroke="#2c2c2c" stroke-width="1.0"/>
<line x1="402" y1="531" x2="402" y2="549" stroke="#2c2c2c" stroke-width="0.9"/>
<line x1="410" y1="535" x2="410" y2="552" stroke="#2c2c2c" stroke-width="1.0"/>
<polyline points="396,530 402,533 402,531" fill="none" stroke="#2c2c2c" stroke-width="0.9"/>
<line x1="421" y1="549" x2="421" y2="560" stroke="#2c2c2c" stroke-width="1.0"/>
<line x1="425" y1="551" x2="425" y2="562" stroke="#2c2c2c" stroke-width="0.9"/>
<polyline points="398,545 404,548 404,552" fill="none" stroke="#2c2c2c" stroke-width="0.8"/>
<polyline points="426.5,562 428.5,577 435,580.5 441,580 445.5,575 447,559" fill="none" stroke="#2c2c2c" stroke-width="1.25"/>
<line x1="435" y1="566" x2="435" y2="580" stroke="#2c2c2c" stroke-width="0.8"/>
<line x1="439" y1="566" x2="439" y2="580" stroke="#2c2c2c" stroke-width="0.8"/>
<line x1="426.5" y1="562" x2="435" y2="566" stroke="#2c2c2c" stroke-width="1.25"/>
<line x1="435" y1="566" x2="447" y2="559" stroke="#2c2c2c" stroke-width="1.25"/>
<line x1="447" y1="565" x2="498" y2="540" stroke="#2c2c2c" stroke-width="1.25"/>
<line x1="448" y1="571" x2="500" y2="546" stroke="#2c2c2c" stroke-width="1.25"/>
<rect x="479" y="554" width="3" height="2" fill="#333" stroke="#2c2c2c" stroke-width="0.5"/>
<polyline points="496.5,522 497.5,544 503,546.5 508.5,540 509.5,518" fill="none" stroke="#2c2c2c" stroke-width="1.25"/>
<line x1="503" y1="524" x2="503" y2="546" stroke="#2c2c2c" stroke-width="0.8"/>
</svg>
</body></html>
